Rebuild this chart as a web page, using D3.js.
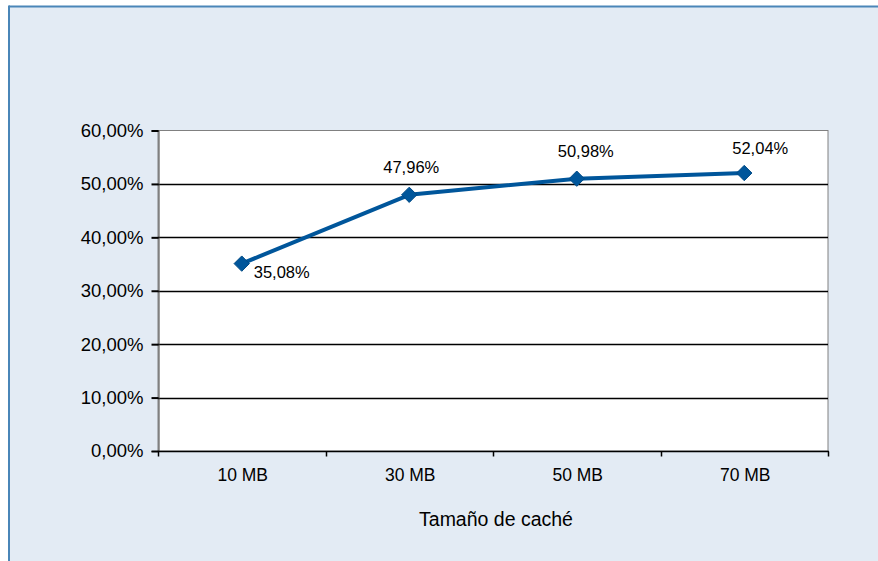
<!DOCTYPE html>
<html>
<head>
<meta charset="utf-8">
<script src="https://cdn.jsdelivr.net/npm/d3@7/dist/d3.min.js"></script>
<style>
  html, body { margin: 0; padding: 0; background: #ffffff; }
  svg { display: block; }
  text { font-family: "Liberation Sans", Arial, sans-serif; fill: #000; }
</style>
</head>
<body>
<svg id="chart" width="878" height="561"></svg>
<script>
// Cache size categories and hit rate (%) for each
const categories = ["10 MB", "30 MB", "50 MB", "70 MB"];
const hitRate = [35.08, 47.96, 50.98, 52.04];
const yTicks = [0, 10, 20, 30, 40, 50, 60];
const xTitle = "Tamaño de caché";

// Placement of each value label relative to its point
const labelOffsets = [
  { dx: 12, dy: 14, anchor: "start" },
  { dx: 2, dy: -22, anchor: "middle" },
  { dx: 9, dy: -22, anchor: "middle" },
  { dx: 16, dy: -19, anchor: "middle" }
];

const fmt = v => v.toFixed(2).replace(".", ",") + "%";

const svg = d3.select("#chart");
const W = 878, H = 561;

// Chart area background with blue frame on top and left
svg.append("rect").attr("x", 9).attr("y", 6.5).attr("width", W - 9).attr("height", H - 6.5)
  .attr("fill", "#e3ebf4");
svg.append("line").attr("x1", 9).attr("x2", W).attr("y1", 6.5).attr("y2", 6.5)
  .attr("stroke", "#4a86b8").attr("stroke-width", 2);
svg.append("line").attr("x1", 9).attr("x2", 9).attr("y1", 5.5).attr("y2", H)
  .attr("stroke", "#4a86b8").attr("stroke-width", 2);

const plot = { left: 158, top: 130.5, right: 828, bottom: 451 };

const x = d3.scaleBand().domain(categories).range([plot.left, plot.right]);
const y = d3.scaleLinear().domain([0, 60]).range([plot.bottom, plot.top]);

// Plot area
svg.append("rect")
  .attr("x", plot.left).attr("y", plot.top)
  .attr("width", plot.right - plot.left).attr("height", plot.bottom - plot.top)
  .attr("fill", "#ffffff").attr("stroke", "#808080").attr("stroke-width", 1);

// Horizontal gridlines
svg.append("g").selectAll("line").data(yTicks.filter(t => t > 0 && t < 60)).join("line")
  .attr("x1", plot.left).attr("x2", plot.right)
  .attr("y1", d => Math.round(y(d)) + 0.5).attr("y2", d => Math.round(y(d)) + 0.5)
  .attr("stroke", "#000").attr("stroke-width", 1.3);

// Y axis
const yAxis = svg.append("g").attr("transform", `translate(${plot.left + 0.5},0)`)
  .call(d3.axisLeft(y).tickValues(yTicks).tickSize(7).tickPadding(8).tickFormat(fmt));
yAxis.select(".domain").attr("stroke", "#404040");
yAxis.selectAll(".tick line").attr("stroke", "#000").attr("stroke-width", 2);
yAxis.selectAll(".tick text").attr("font-size", 18.5).attr("fill", "#000")
  .attr("font-family", "Liberation Sans, Arial, sans-serif");

// X axis with ticks at category boundaries
const xAxis = svg.append("g").attr("transform", `translate(0,${plot.bottom + 0.5})`);
xAxis.append("line").attr("x1", plot.left).attr("x2", plot.right + 1)
  .attr("stroke", "#000").attr("stroke-width", 1.5);
const bounds = categories.map(c => x(c)).concat([plot.right]);
xAxis.selectAll("line.tk").data(bounds).join("line").attr("class", "tk")
  .attr("x1", d => Math.round(d) + 0.5).attr("x2", d => Math.round(d) + 0.5)
  .attr("y1", 0).attr("y2", 5).attr("stroke", "#000").attr("stroke-width", 1.5);
xAxis.selectAll("text").data(categories).join("text")
  .attr("x", d => x(d) + x.bandwidth() / 2 + 1).attr("y", 29.5)
  .attr("text-anchor", "middle").attr("font-size", 17.5).text(d => d);

// Axis title
svg.append("text").attr("x", (plot.left + plot.right) / 2 + 3).attr("y", 526)
  .attr("text-anchor", "middle").attr("font-size", 19.5).text(xTitle);

// Series line
const cx = (d, i) => x(categories[i]) + x.bandwidth() / 2;
const line = d3.line().x((d, i) => cx(d, i)).y(d => y(d));
svg.append("path").datum(hitRate).attr("d", line)
  .attr("fill", "none").attr("stroke", "#00569b").attr("stroke-width", 4)
  .attr("stroke-linejoin", "round");

// Diamond markers
svg.append("g").selectAll("path").data(hitRate).join("path")
  .attr("transform", (d, i) => `translate(${cx(d, i)},${y(d)})`)
  .attr("d", d3.symbol().type(d3.symbolDiamond2).size(150))
  .attr("fill", "#00569b").attr("stroke", "#004a85").attr("stroke-width", 1);

// Value labels
svg.append("g").selectAll("text").data(hitRate).join("text")
  .attr("x", (d, i) => cx(d, i) + labelOffsets[i].dx)
  .attr("y", (d, i) => y(d) + labelOffsets[i].dy)
  .attr("text-anchor", (d, i) => labelOffsets[i].anchor)
  .attr("font-size", 16.5).text(fmt);
</script>
</body>
</html>
